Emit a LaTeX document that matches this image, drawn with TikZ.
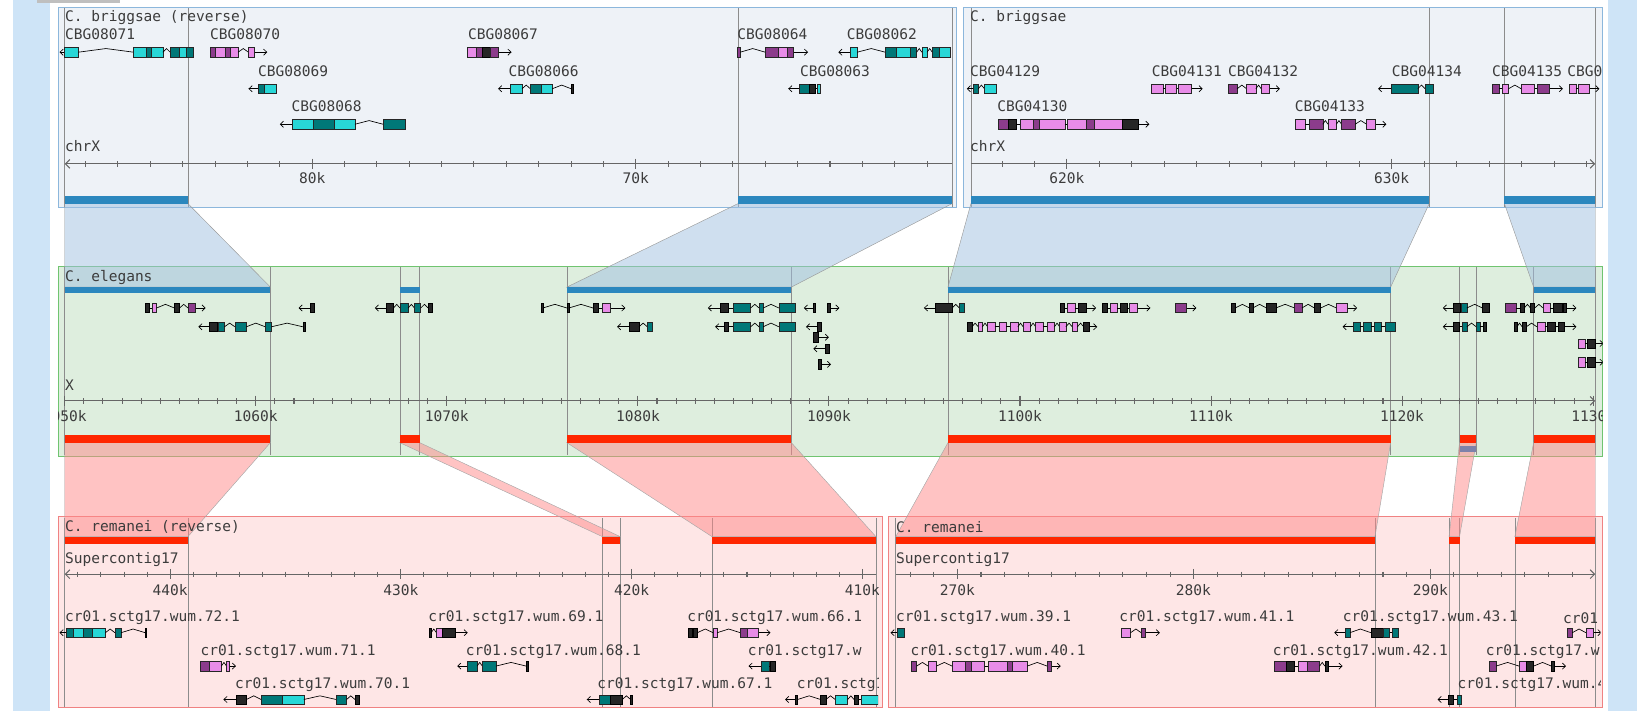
\documentclass[tikz,border=0pt]{standalone}
\usepackage{fontspec}
\newfontfamily\browserfont{DejaVu Sans Mono}
\usetikzlibrary{arrows.meta}
\begin{document}
\begin{tikzpicture}[x=0.25mm, y=-0.25mm,
    every node/.style={font=\browserfont\fontsize{9.9}{11}\selectfont, text=labelgrey, inner sep=0pt},
    lbl/.style={anchor=west},
    ticklbl/.style={anchor=center},
    strandline/.style={line width=0.45pt, black, -{Straight Barb[length=2.2pt,width=4.2pt]}},
    intronline/.style={line width=0.45pt, black},
    gc/.style={fill=genecyan, draw=black!85, line width=0.35pt},
    gt/.style={fill=geneteal, draw=black!85, line width=0.35pt},
    gp/.style={fill=genepink, draw=black!85, line width=0.35pt},
    gm/.style={fill=genepurple, draw=black!85, line width=0.35pt},
    gk/.style={fill=black!85, draw=black, line width=0.35pt},
    axisline/.style={line width=0.7pt, draw=black!60},
    axisleft/.style={{Straight Barb[length=3pt,width=6pt]}-},
    axisright/.style={-{Straight Barb[length=3pt,width=6pt]}},
    regionline/.style={draw=black!45, line width=0.4pt},
    bpanel/.style={fill=bfill, draw=bborder, line width=0.8pt},
    epanel/.style={fill=efill, draw=eborder, line width=0.8pt},
    rpanel/.style={fill=rfill, draw=rborder, line width=0.8pt},
    bluelinkarea/.style={fill=bluelink, fill opacity=0.5, draw=black!40, line width=0.3pt},
    redlinkarea/.style={fill=redlink, fill opacity=0.5, draw=black!35, line width=0.3pt}]

    % Define colors
    \definecolor{sidestrip}{RGB}{206,228,247}
    \definecolor{bfill}{RGB}{238,242,247}
    \definecolor{bborder}{RGB}{140,183,220}
    \definecolor{efill}{RGB}{222,238,222}
    \definecolor{eborder}{RGB}{112,196,112}
    \definecolor{rfill}{RGB}{254,230,230}
    \definecolor{rborder}{RGB}{240,130,130}
    \definecolor{bluebar}{RGB}{43,135,190}
    \definecolor{redbar}{RGB}{255,38,0}
    \definecolor{bluelink}{RGB}{160,192,224}
    \definecolor{redlink}{RGB}{255,136,136}
    \definecolor{genecyan}{RGB}{40,215,215}
    \definecolor{geneteal}{RGB}{0,120,120}
    \definecolor{genepink}{RGB}{232,140,232}
    \definecolor{genepurple}{RGB}{140,60,140}
    \definecolor{labelgrey}{RGB}{60,60,60}
    \definecolor{overlapbar}{RGB}{125,130,170}

    % Gene glyph: y, strand line start, arrow tip, exons
    \def\gene#1#2#3#4{%
      \draw[strandline] (#2,#1) -- (#3,#1);
      \foreach \a/\b/\s [count=\i, remember=\b as \pb (initially 0)] in {#4} {
        \pgfmathtruncatemacro\gap{\a-\pb}
        \ifnum\i>1
          \ifnum\gap>4
            \draw[intronline] (\pb,#1) -- ({(\pb+\a)/2},{#1-3.5}) -- (\a,#1);
          \else
            \draw[intronline] (\pb,#1) -- (\a,#1);
          \fi
        \fi
        \draw[\s] (\a,{#1-4.5}) rectangle (\b,{#1+4.5});
      }
    }
    % Axis ticks: y, major reference x, minor step, first and last index
    \def\axisticks#1#2#3#4#5{%
      \foreach \i in {#4,...,#5} {
        \pgfmathsetmacro\tx{#2+#3*\i}
        \pgfmathtruncatemacro\im{mod(abs(\i),10)}
        \ifnum\im=0
          \draw[axisline] (\tx,{#1-5}) -- (\tx,{#1+5});
        \else
          \draw[axisline] (\tx,{#1-2.5}) -- (\tx,{#1+2.5});
        \fi
      }
    }

    \useasboundingbox (0,0) rectangle (1568,681);

    % Draw the side strips and the top tab
    \fill[sidestrip] (12,0) rectangle (48,681);
    \fill[sidestrip] (1540,0) rectangle (1568,681);
    \fill[black!25] (35,0) rectangle (115,2.5);

    % Draw the panels
    \draw[bpanel] (56,7) rectangle (916,199);
    \draw[bpanel] (923,7) rectangle (1535,199);
    \draw[epanel] (56,255) rectangle (1535,437);
    \draw[rpanel] (56,495) rectangle (845,678);
    \draw[rpanel] (851,495) rectangle (1535,678);

    % Region borders
    \foreach \x in {62,180,707,912,930,1369,1441,1528}
      \draw[regionline] (\x,8) -- (\x,198);
    \foreach \x in {62,259,383,402,543,758,908,1332,1398,1414,1469,1528}
      \draw[regionline] (\x,256) -- (\x,436);
    \foreach \x in {62,180,577,594,682,839,858,1317,1388,1398,1451,1528}
      \draw[regionline] (\x,496) -- (\x,677);

    % Alignment links briggsae - elegans
    \draw[bluelinkarea] (62,195) -- (180,195) -- (259,275) -- (62,275) -- cycle;
    \draw[bluelinkarea] (707,195) -- (912,195) -- (758,275) -- (543,275) -- cycle;
    \draw[bluelinkarea] (930,195) -- (1369,195) -- (1332,275) -- (908,275) -- cycle;
    \draw[bluelinkarea] (1441,195) -- (1528,195) -- (1528,275) -- (1469,275) -- cycle;

    % Alignment links elegans - remanei
    \draw[redlinkarea] (62,424) -- (259,424) -- (180,514) -- (62,514) -- cycle;
    \draw[redlinkarea] (383,424) -- (402,424) -- (594,514) -- (577,514) -- cycle;
    \draw[redlinkarea] (543,424) -- (758,424) -- (839,514) -- (682,514) -- cycle;
    \draw[redlinkarea] (908,424) -- (1332,424) -- (1317,514) -- (858,514) -- cycle;
    \draw[redlinkarea] (1398,424) -- (1414,424) -- (1398,514) -- (1388,514) -- cycle;
    \draw[redlinkarea] (1469,424) -- (1528,424) -- (1528,514) -- (1451,514) -- cycle;

    % C. briggsae (reverse)
    \begin{scope}
      \clip (56,7) rectangle (916,199);
      \foreach \a/\b in {62/180,707/912} \fill[bluebar] (\a,188) rectangle (\b,195);
      \node[lbl] (b1title) at (62,17) {C. briggsae (reverse)};
      \node[lbl] (CBG08071) at (62,33) {CBG08071};
      \node[lbl] (CBG08070) at (201,33) {CBG08070};
      \node[lbl] (CBG08067) at (448,33) {CBG08067};
      \node[lbl] (CBG08064) at (706,33) {CBG08064};
      \node[lbl] (CBG08062) at (811,33) {CBG08062};
      \node[lbl] (CBG08069) at (247,68) {CBG08069};
      \node[lbl] (CBG08066) at (487,68) {CBG08066};
      \node[lbl] (CBG08063) at (766,68) {CBG08063};
      \node[lbl] (CBG08068) at (279,102) {CBG08068};
      \gene{50}{62}{57}{62/75/gc, 128/140/gc, 140/145/gt, 145/156/gc, 163/172/gt, 172/178/gc, 178/185/gt}
      \gene{50}{244}{256}{201/206/gm, 206/216/gp, 216/221/gm, 221/228/gp, 238/244/gp}
      \gene{50}{477}{490}{448/456/gp, 456/462/gm, 462/470/gk, 470/477/gm}
      \gene{50}{760}{774}{706/709/gm, 733/745/gm, 745/754/gp, 754/760/gm}
      \gene{50}{814}{803}{814/821/gc, 848/858/gt, 858/872/gc, 872/878/gt, 883/888/gc, 893/900/gt, 900/910/gc}
      \gene{85}{247}{238}{247/253/gt, 253/265/gc}
      \gene{85}{489}{477}{489/500/gc, 508/518/gt, 518/529/gc, 547/549/gk}
      \gene{85}{766}{755}{766/775/gt, 775/781/gk, 783/786/gc}
      \gene{119}{280}{268}{280/300/gc, 300/320/gt, 320/340/gc, 367/388/gt}
      \node[lbl] (b1chr) at (62,140) {chrX};
      \draw[axisline, axisleft] (62,157) -- (912,157);
      \axisticks{157}{299}{31}{-7}{19}
      \node[ticklbl] (b1t80) at (299,171) {80k};
      \node[ticklbl] (b1t70) at (609,171) {70k};
    \end{scope}

    % C. briggsae
    \begin{scope}
      \clip (923,7) rectangle (1535,199);
      \foreach \a/\b in {930/1369,1441/1528} \fill[bluebar] (\a,188) rectangle (\b,195);
      \node[lbl] (b2title) at (929,17) {C. briggsae};
      \node[lbl] (CBG04129) at (929,68) {CBG04129};
      \node[lbl] (CBG04131) at (1103,68) {CBG04131};
      \node[lbl] (CBG04132) at (1176,68) {CBG04132};
      \node[lbl] (CBG04134) at (1333,68) {CBG04134};
      \node[lbl] (CBG04135) at (1429,68) {CBG04135};
      \node[lbl] (CBG0cut) at (1501,68) {CBG0};
      \node[lbl] (CBG04130) at (955,102) {CBG04130};
      \node[lbl] (CBG04133) at (1240,102) {CBG04133};
      \gene{85}{932}{926}{932/937/gt, 943/954/gc}
      \gene{85}{1141}{1152}{1103/1114/gp, 1116/1127/gp, 1129/1141/gp}
      \gene{85}{1216}{1226}{1176/1185/gm, 1194/1203/gp, 1208/1216/gp}
      \gene{85}{1333}{1320}{1333/1358/gt, 1365/1373/gt}
      \gene{85}{1484}{1497}{1429/1436/gm, 1439/1445/gp, 1457/1470/gp, 1472/1484/gm}
      \gene{85}{1522}{1532}{1503/1510/gp, 1512/1522/gp}
      \gene{119}{1090}{1101}{956/966/gm, 966/973/gk, 977/990/gp, 990/995/gm, 995/1020/gp, 1022/1040/gp, 1040/1048/gm, 1048/1075/gp, 1075/1090/gk}
      \gene{119}{1317}{1328}{1241/1250/gp, 1254/1267/gm, 1272/1280/gp, 1285/1298/gm, 1309/1317/gp}
      \node[lbl] (b2chr) at (929,140) {chrX};
      \draw[axisline, axisright] (930,157) -- (1528,157);
      \axisticks{157}{1022}{31.1}{-2}{16}
      \node[ticklbl] (b2t620) at (1022,171) {620k};
      \node[ticklbl] (b2t630) at (1333,171) {630k};
    \end{scope}

    % C. elegans
    \begin{scope}
      \clip (56,255) rectangle (1535,437);
      \foreach \a/\b in {62/259,383/402,543/758,908/1332,1469/1528}
        \fill[bluebar] (\a,275) rectangle (\b,281);
      \foreach \a/\b in {62/259,383/402,543/758,908/1332,1398/1414,1469/1528}
        \fill[redbar] (\a,417) rectangle (\b,424);
      \fill[overlapbar] (1398,427) rectangle (1414,433);
      \node[lbl] (etitle) at (62,266) {C. elegans};
      \gene{295}{187}{197}{139/143/gk, 146/150/gp, 167/172/gk, 180/187/gm}
      \gene{295}{297}{286}{297/301/gk}
      \gene{295}{370}{359}{370/377/gk, 383/391/gt, 397/403/gt, 410/414/gk}
      \gene{313}{200}{190}{200/208/gk, 209/215/gt, 225/236/gt, 254/260/gt, 290/292/gk}
      \gene{295}{585}{599}{518/520/gk, 543/545/gk, 568/573/gk, 577/585/gp}
      \gene{313}{603}{591}{603/612/gk, 620/625/gt}
      \gene{295}{690}{678}{690/698/gk, 702/719/gt, 727/731/gt, 746/762/gt}
      \gene{313}{694}{685}{694/698/gk, 702/719/gt, 727/731/gt, 746/762/gt}
      \gene{295}{779}{770}{779/781/gk}
      \gene{295}{795}{804}{792/795/gk}
      \gene{313}{783}{772}{783/787/gk}
      \gene{323}{784}{794}{779/784/gk}
      \gene{334}{790}{779}{790/794/gk}
      \gene{349}{787}{796}{784/787/gk}
      \gene{295}{896}{885}{896/912/gk, 919/924/gt}
      \gene{313}{1043}{1051}{926/931/gk, 937/941/gp, 946/953/gp, 957/964/gp, 968/975/gp, 980/987/gp, 992/999/gp, 1003/1010/gp, 1015/1021/gp, 1027/1032/gp, 1038/1043/gk}
      \gene{295}{1040}{1050}{1016/1019/gk, 1022/1030/gp, 1033/1040/gk}
      \gene{295}{1089}{1102}{1056/1061/gk, 1063/1070/gp, 1073/1080/gk, 1082/1089/gp}
      \gene{295}{1136}{1146}{1126/1136/gm}
      \gene{295}{1290}{1300}{1179/1183/gk, 1197/1200/gk, 1213/1222/gk, 1240/1247/gm, 1259/1265/gk, 1280/1290/gp}
      \gene{313}{1296}{1286}{1296/1303/gt, 1306/1313/gt, 1316/1323/gt, 1327/1336/gt}
      \gene{295}{1392}{1382}{1392/1399/gk, 1400/1405/gt, 1420/1426/gk}
      \gene{313}{1392}{1382}{1392/1398/gk, 1401/1405/gt, 1414/1418/gt, 1421/1424/gk}
      \gene{295}{1500}{1510}{1442/1452/gm, 1456/1460/gk, 1466/1470/gk, 1478/1485/gp, 1488/1496/gk, 1497/1500/gk}
      \gene{313}{1498}{1510}{1450/1453/gk, 1458/1462/gk, 1472/1480/gp, 1482/1490/gk, 1493/1498/gk}
      \gene{329}{1528}{1536}{1512/1518/gp, 1520/1528/gk}
      \gene{347}{1528}{1536}{1512/1518/gp, 1520/1528/gk}
      \node[lbl] (echr) at (62,369) {X};
      \draw[axisline, axisright] (62,384) -- (1528,384);
      \axisticks{384}{62}{18.3}{0}{80}
      \foreach \kb [count=\n from 0] in {1050,1060,...,1130}
        \node[ticklbl] (et\kb) at ({62+183*\n},399) {\kb k};
    \end{scope}

    % C. remanei (reverse)
    \begin{scope}
      \clip (56,495) rectangle (841,678);
      \foreach \a/\b in {62/180,577/594,682/839} \fill[redbar] (\a,514) rectangle (\b,521);
      \node[lbl] (r1title) at (62,505) {C. remanei (reverse)};
      \node[lbl] (r1chr) at (62,536) {Supercontig17};
      \draw[axisline, axisleft] (62,550) -- (839,550);
      \axisticks{550}{163}{22.1}{-4}{30}
      \node[ticklbl] (r1t440) at (163,565) {440k};
      \node[ticklbl] (r1t430) at (384,565) {430k};
      \node[ticklbl] (r1t420) at (605,565) {420k};
      \node[ticklbl] (r1t410) at (826,565) {410k};
      \node[lbl] (wum72) at (62,592) {cr01.sctg17.wum.72.1};
      \node[lbl] (wum69) at (410,592) {cr01.sctg17.wum.69.1};
      \node[lbl] (wum66) at (658,592) {cr01.sctg17.wum.66.1};
      \node[lbl] (wum71) at (192,624) {cr01.sctg17.wum.71.1};
      \node[lbl] (wum68) at (446,624) {cr01.sctg17.wum.68.1};
      \node[lbl] (wum65) at (716,624) {cr01.sctg17.w};
      \node[lbl] (wum70) at (225,656) {cr01.sctg17.wum.70.1};
      \node[lbl] (wum67) at (572,656) {cr01.sctg17.wum.67.1};
      \node[lbl] (wum64) at (763,656) {cr01.sctg1};
      \gene{606}{63}{57}{63/70/gt, 70/80/gc, 80/88/gt, 88/101/gc, 110/116/gt, 139/140/gk}
      \gene{606}{436}{448}{411/413/gk, 418/424/gp, 424/436/gk}
      \gene{606}{726}{738}{659/663/gk, 664/668/gk, 683/687/gp, 709/716/gm, 716/726/gp}
      \gene{638}{220}{226}{192/200/gm, 200/212/gp, 217/220/gp}
      \gene{638}{448}{438}{448/457/gt, 462/475/gt, 504/506/gk}
      \gene{638}{729}{717}{729/737/gt, 738/743/gk}
      \gene{670}{226}{214}{226/236/gk, 250/270/gt, 270/291/gc, 322/332/gt, 340/344/gk}
      \gene{670}{574}{562}{574/585/gt, 585/596/gk, 604/606/gk}
      \gene{670}{762}{752}{762/764/gk, 786/791/gk, 800/812/gc, 818/822/gk, 825/841/gc}
    \end{scope}

    % C. remanei
    \begin{scope}
      \clip (851,495) rectangle (1533,678);
      \foreach \a/\b in {858/1317,1388/1398,1451/1528} \fill[redbar] (\a,514) rectangle (\b,521);
      \node[lbl] (r2title) at (858,505) {C. remanei};
      \node[lbl] (r2chr) at (858,536) {Supercontig17};
      \draw[axisline, axisright] (858,550) -- (1528,550);
      \axisticks{550}{917}{22.65}{-2}{26}
      \node[ticklbl] (r2t270) at (917,565) {270k};
      \node[ticklbl] (r2t280) at (1143,565) {280k};
      \node[ticklbl] (r2t290) at (1370,565) {290k};
      \node[lbl] (wum39) at (858,592) {cr01.sctg17.wum.39.1};
      \node[lbl] (wum41) at (1072,592) {cr01.sctg17.wum.41.1};
      \node[lbl] (wum43) at (1286,592) {cr01.sctg17.wum.43.1};
      \node[lbl] (wum45) at (1497,592) {cr01};
      \node[lbl] (wum40) at (872,624) {cr01.sctg17.wum.40.1};
      \node[lbl] (wum42) at (1219,624) {cr01.sctg17.wum.42.1};
      \node[lbl] (wum46) at (1423,624) {cr01.sctg17.w};
      \node[lbl] (wum44) at (1396,656) {cr01.sctg17.wum.4};
      \gene{606}{859}{853}{859/866/gt}
      \gene{606}{1097}{1111}{1074/1083/gp, 1093/1097/gm}
      \gene{606}{1289}{1278}{1289/1293/gt, 1313/1325/gk, 1325/1331/gt, 1334/1339/gt}
      \gene{606}{1526}{1534}{1501/1506/gm, 1519/1526/gp}
      \gene{638}{1007}{1016}{873/878/gm, 889/897/gp, 912/925/gp, 925/930/gm, 930/943/gp, 947/965/gp, 965/970/gm, 970/984/gp, 1003/1007/gm}
      \gene{638}{1272}{1286}{1221/1232/gm, 1232/1240/gk, 1244/1252/gp, 1252/1264/gm, 1269/1272/gk}
      \gene{638}{1489}{1500}{1426/1433/gm, 1455/1462/gp, 1462/1469/gk, 1486/1489/gk}
      \gene{670}{1387}{1377}{1387/1392/gk, 1396/1400/gt}
    \end{scope}

\end{tikzpicture}
\end{document}
